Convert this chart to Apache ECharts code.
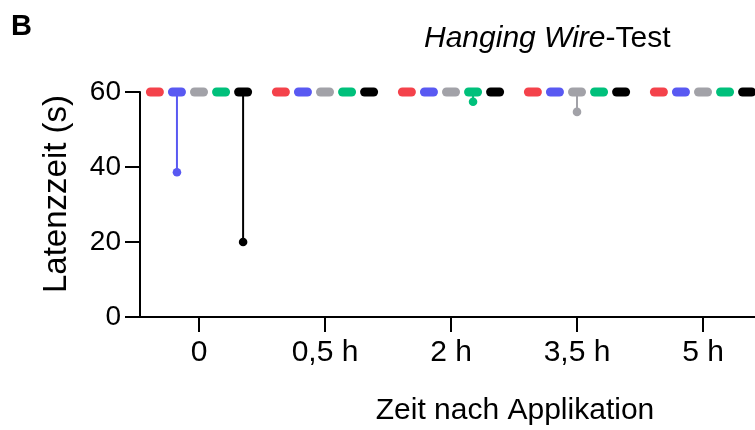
<!DOCTYPE html>
<html>
<head>
<meta charset="utf-8">
<script src="https://cdn.jsdelivr.net/npm/echarts@6/dist/echarts.min.js"></script>
<style>
  html, body { margin: 0; padding: 0; background: #fff; }
  #chart { width: 755px; height: 430px; }
</style>
</head>
<body>
<div id="chart"></div>
<script>
// Time points after application
const categories = ['0', '0,5 h', '2 h', '3,5 h', '5 h'];

// Group names and colours (five groups per time point)
const groupNames = ['Gruppe 1', 'Gruppe 2', 'Gruppe 3', 'Gruppe 4', 'Gruppe 5'];
const groupColors = ['#F4424B', '#5959F2', '#A2A2A8', '#00C07B', '#000000'];

// Median latency (s) per group and time point
const median1 = [60, 60, 60, 60, 60];
const median2 = [60, 60, 60, 60, 60];
const median3 = [60, 60, 60, 60, 60];
const median4 = [60, 60, 60, 60, 60];
const median5 = [60, 60, 60, 60, 60];

// Minimum latency (s) per group and time point
const min1 = [60, 60, 60, 60, 60];
const min2 = [38.6, 60, 60, 60, 60];
const min3 = [60, 60, 60, 54.7, 60];
const min4 = [60, 60, 57.4, 60, 60];
const min5 = [20, 60, 60, 60, 60];

// Y axis ticks
const yTicks = [0, 20, 40, 60];

const medians = [median1, median2, median3, median4, median5];
const minima = [min1, min2, min3, min4, min5];

const FONT = "'Liberation Sans', Arial, Helvetica, sans-serif";
const FS = 30;

const chart = echarts.init(document.getElementById('chart'), null, { renderer: 'canvas' });

function makeSeries(k) {
  const data = categories.map((c, i) => [i, medians[k][i], minima[k][i]]);
  return {
    name: groupNames[k],
    type: 'custom',
    clip: false,
    data: data,
    renderItem: function (params, api) {
      const ci = api.value(0);
      const med = api.value(1);
      const mn = api.value(2);
      const bw = api.size([1, 0])[0];
      const dx = (k - 2) * bw * 0.175;
      const pMed = api.coord([ci, med]);
      const pMin = api.coord([ci, mn]);
      const x = pMed[0] + dx;
      const color = groupColors[k];
      const children = [];
      if (mn < med) {
        children.push({
          type: 'line',
          shape: { x1: x, y1: pMed[1], x2: x, y2: pMin[1] },
          style: { stroke: color, lineWidth: 2 }
        });
        children.push({
          type: 'circle',
          shape: { cx: x, cy: pMin[1], r: 4.3 },
          style: { fill: color }
        });
      }
      children.push({
        type: 'rect',
        shape: { x: x - 9, y: pMed[1] - 4.5, width: 18, height: 9, r: 4.5 },
        style: { fill: color }
      });
      return { type: 'group', children: children };
    }
  };
}

const option = {
  animation: false,
  backgroundColor: '#ffffff',
  title: {
    text: '{i|Hanging Wire}{n|-Test}',
    left: 419,
    top: 19,
    textStyle: {
      rich: {
        i: { fontFamily: FONT, fontSize: FS, fontStyle: 'italic', fontWeight: 'normal', color: '#000' },
        n: { fontFamily: FONT, fontSize: FS, fontWeight: 'normal', color: '#000' }
      }
    }
  },
  graphic: [
    {
      type: 'text',
      left: 11,
      top: 12,
      style: { text: 'B', font: 'bold 29px ' + FONT, fill: '#000' }
    },
    {
      type: 'text',
      x: 57,
      y: 194,
      rotation: Math.PI / 2,
      style: {
        text: 'Latenzzeit (s)',
        font: '33px ' + FONT,
        fill: '#000',
        align: 'center',
        verticalAlign: 'middle'
      }
    },
    {
      type: 'text',
      x: 515,
      y: 411,
      style: {
        text: 'Zeit nach Applikation',
        font: FS + 'px ' + FONT,
        fill: '#000',
        align: 'center',
        verticalAlign: 'middle'
      }
    }
  ],
  grid: {
    left: 136,
    width: 630,
    top: 92,
    bottom: 113,
    containLabel: false,
    outerBoundsMode: 'none'
  },
  xAxis: {
    type: 'category',
    data: categories,
    boundaryGap: true,
    axisLine: { show: true, lineStyle: { color: '#000', width: 2 } },
    axisTick: { show: true, alignWithLabel: true, length: 15, lineStyle: { color: '#000', width: 2 } },
    axisLabel: { fontFamily: FONT, fontSize: FS, color: '#000', margin: 21 },
    splitLine: { show: false }
  },
  yAxis: {
    type: 'value',
    min: yTicks[0],
    max: yTicks[yTicks.length - 1],
    interval: 20,
    offset: -4,
    axisLine: { show: true, lineStyle: { color: '#000', width: 2 } },
    axisTick: { show: true, length: 15, lineStyle: { color: '#000', width: 2 } },
    axisLabel: { fontFamily: FONT, fontSize: 28, color: '#000', margin: 19 },
    splitLine: { show: false }
  },
  series: groupNames.map((n, k) => makeSeries(k))
};

chart.setOption(option);
</script>
</body>
</html>
